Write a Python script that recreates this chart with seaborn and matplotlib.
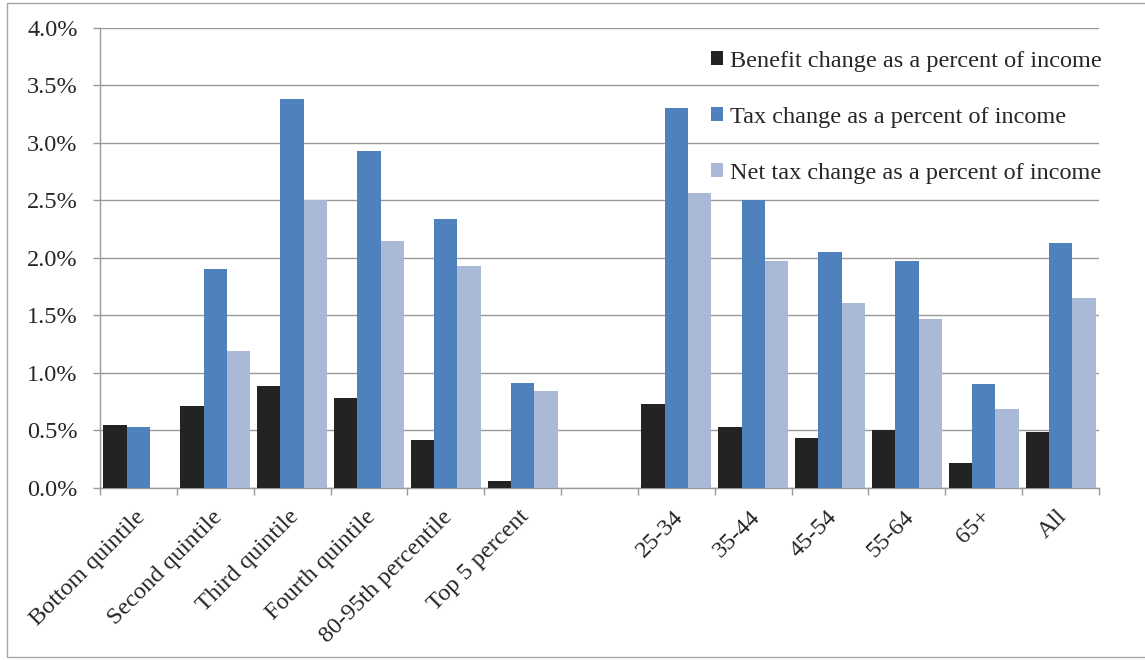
import matplotlib
matplotlib.use("Agg")
import matplotlib.pyplot as plt
from matplotlib.patches import Rectangle
from matplotlib.ticker import FixedLocator, FuncFormatter
import seaborn as sns
import pandas as pd
import numpy as np

# ---- data (percent of income) ----
categories = ["Bottom quintile", "Second quintile", "Third quintile", "Fourth quintile",
              "80-95th percentile", "Top 5 percent", " ",
              "25-34", "35-44", "45-54", "55-64", "65+", "All"]
data_categories = ["Bottom quintile", "Second quintile", "Third quintile", "Fourth quintile",
                   "80-95th percentile", "Top 5 percent",
                   "25-34", "35-44", "45-54", "55-64", "65+", "All"]
benefit = [0.54, 0.71, 0.88, 0.78, 0.41, 0.06, 0.73, 0.53, 0.43, 0.50, 0.21, 0.48]
tax = [0.53, 1.90, 3.38, 2.93, 2.34, 0.91, 3.30, 2.50, 2.05, 1.97, 0.90, 2.13]
net_tax = [0.00, 1.19, 2.50, 2.15, 1.93, 0.84, 2.56, 1.97, 1.61, 1.47, 0.68, 1.65]
series_names = ["Benefit change as a percent of income",
                "Tax change as a percent of income",
                "Net tax change as a percent of income"]
colors = ["#232323", "#4F81BD", "#AAB9D7"]
yticks = [0.0, 0.5, 1.0, 1.5, 2.0, 2.5, 3.0, 3.5, 4.0]

rows = []
for name, vals in zip(series_names, [benefit, tax, net_tax]):
    for c, v in zip(data_categories, vals):
        rows.append({"category": c, "series": name, "value": v})
df = pd.DataFrame(rows)

FS = 17.5
sns.set_theme(style="white")
plt.rcParams["font.family"] = ["Liberation Serif", "DejaVu Serif"]
plt.rcParams["font.size"] = FS

W, H = 1145, 660
fig = plt.figure(figsize=(W / 100, H / 100), dpi=100)
ax = fig.add_axes([100 / W, 1 - 487.5 / H, 999 / W, (487.5 - 28) / H])

sns.barplot(data=df, x="category", y="value", hue="series", order=categories,
            hue_order=series_names, palette=colors, width=0.91, saturation=1,
            errorbar=None, linewidth=0, ax=ax, zorder=3)

grid_c = "#9A9A9A"
ax.set_ylim(0, 4.0)
ax.set_xlim(-0.5, len(categories) - 0.5)
ax.yaxis.set_major_locator(FixedLocator(yticks))
ax.yaxis.set_major_formatter(FuncFormatter(lambda v, p: f"{v:.1f}%"))
ax.grid(axis="y", color=grid_c, linewidth=1.0, zorder=0)
ax.set_axisbelow(True)
ax.set_xlabel("")
ax.set_ylabel("")

for s in ["top", "right"]:
    ax.spines[s].set_visible(False)
for s in ["left", "bottom"]:
    ax.spines[s].set_color(grid_c)
    ax.spines[s].set_linewidth(1.0)

ax.tick_params(axis="y", which="major", direction="out", length=5, width=1.0,
               color=grid_c, pad=11, labelsize=FS, left=True)
ax.set_xticks(np.arange(len(categories)))
ax.set_xticklabels(categories, rotation=45, ha="right", rotation_mode="default")
ax.set_xticks(np.arange(len(categories) + 1) - 0.5, minor=True)
ax.tick_params(axis="x", which="major", length=0, pad=13.5, labelsize=FS)
ax.tick_params(axis="x", which="minor", direction="out", length=5, width=1.0,
               color=grid_c, bottom=True)
for lbl in ax.get_xticklabels():
    lbl.set_transform(lbl.get_transform() + matplotlib.transforms.ScaledTranslation(11 / 100, 0, fig.dpi_scale_trans))

handles, labels = ax.get_legend_handles_labels()
if ax.get_legend() is not None:
    ax.get_legend().remove()
fig.legend(handles, labels, loc="upper left", bbox_to_anchor=(711 / W, 1 - 51 / H),
           bbox_transform=fig.transFigure, frameon=False, borderpad=0, borderaxespad=0,
           handlelength=0.5, handleheight=0.5, handletextpad=0.3, labelspacing=1.43,
           fontsize=FS)

# figure border
fig.patches.append(Rectangle((7 / W, 3 / H), 1.2, (657 - 3) / H, transform=fig.transFigure,
                             fill=False, edgecolor="#A6A6A6", linewidth=1.0, zorder=-1))

fig.savefig("out.png", dpi=100)
